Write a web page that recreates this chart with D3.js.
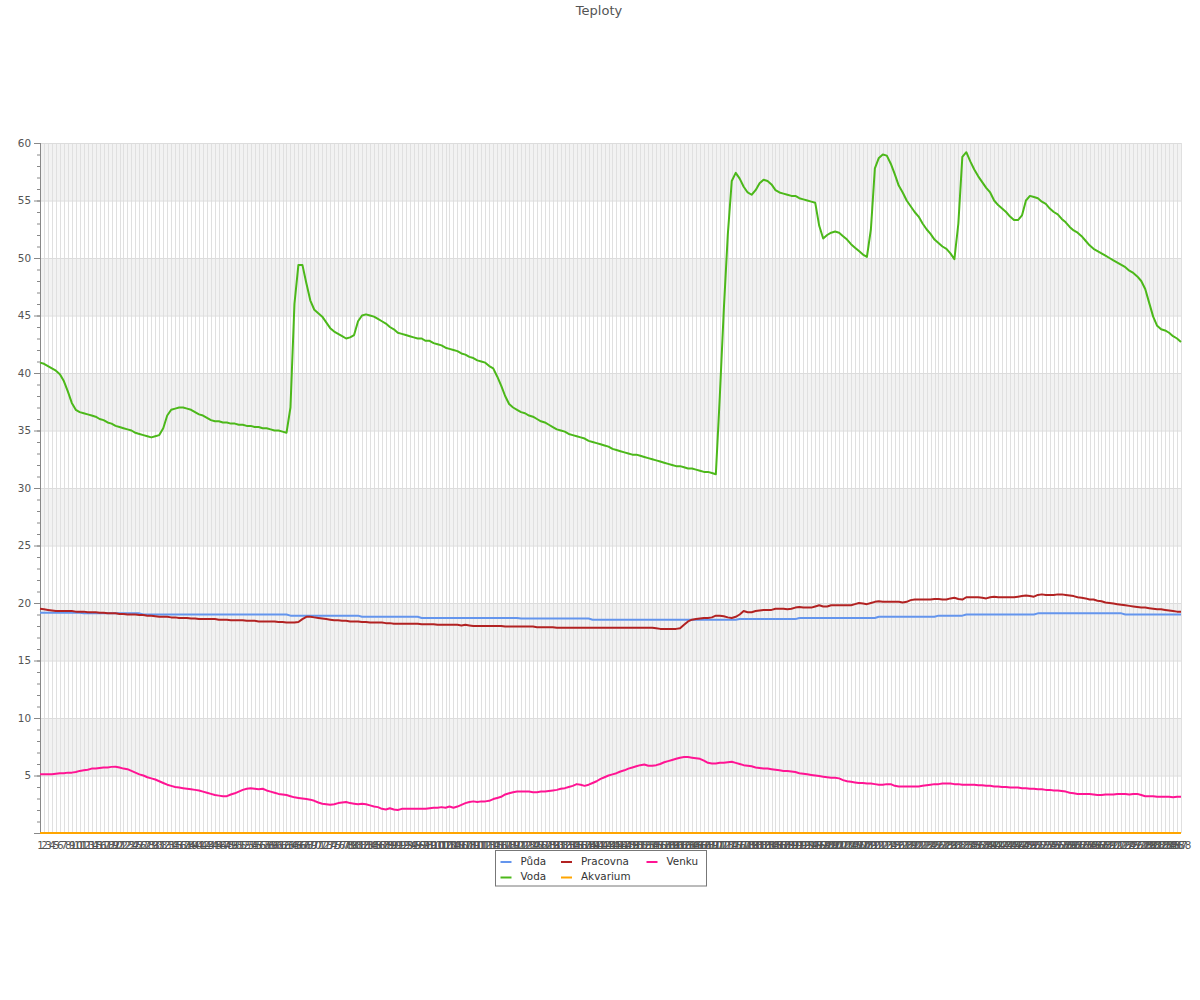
<!DOCTYPE html>
<html>
<head>
<meta charset="utf-8">
<script src="https://cdn.jsdelivr.net/npm/d3@7"></script>
<style>
  html, body { margin: 0; padding: 0; background: #fff; }
  svg { display: block; font-family: "DejaVu Sans", Verdana, sans-serif; }
</style>
</head>
<body>
<svg id="chart" width="1200" height="1000"></svg>
<script>
const title = "Teploty";
const seriesNames = ["Půda", "Voda", "Pracovna", "Akvarium", "Venku"];
const seriesColors = ["#6495ed", "#4cb81a", "#b22222", "#ffa500", "#ff1493"];
const yTickValues = [5, 10, 15, 20, 25, 30, 35, 40, 45, 50, 55, 60];
const yBands = [[5, 10], [15, 20], [25, 30], [35, 40], [45, 50], [55, 60]];

const puda = [
19.15,19.15,19.15,19.15,19.15,19.15,19.15,19.15,19.15,19.15,19.15,19.1,19.1,19.1,19.1,19.1,19.1,19.1,19.1,19.1,
19.1,19.1,19.1,19.1,19.1,19.1,19.0,19.0,19.0,19.0,19.0,19.0,19.0,19.0,19.0,19.0,19.0,19.0,19.0,19.0,
19.0,19.0,19.0,19.0,19.0,19.0,19.0,19.0,19.0,19.0,19.0,19.0,19.0,19.0,19.0,19.0,19.0,19.0,19.0,19.0,
19.0,19.0,19.0,18.9,18.9,18.9,18.9,18.9,18.9,18.9,18.9,18.9,18.9,18.9,18.9,18.9,18.9,18.9,18.9,18.9,
18.9,18.8,18.8,18.8,18.8,18.8,18.8,18.8,18.8,18.8,18.8,18.8,18.8,18.8,18.8,18.8,18.7,18.7,18.7,18.7,
18.7,18.7,18.7,18.7,18.7,18.7,18.7,18.7,18.7,18.7,18.7,18.7,18.7,18.7,18.7,18.7,18.7,18.7,18.7,18.7,
18.7,18.65,18.65,18.65,18.65,18.65,18.65,18.65,18.65,18.65,18.65,18.65,18.65,18.65,18.65,18.65,18.65,18.65,18.65,18.55,
18.55,18.55,18.55,18.55,18.55,18.55,18.55,18.55,18.55,18.55,18.55,18.55,18.55,18.55,18.55,18.55,18.55,18.55,18.55,18.55,
18.55,18.55,18.55,18.55,18.55,18.55,18.55,18.55,18.55,18.55,18.55,18.55,18.55,18.55,18.55,18.55,18.6,18.6,18.6,18.6,
18.6,18.6,18.6,18.6,18.6,18.6,18.6,18.6,18.6,18.6,18.6,18.7,18.7,18.7,18.7,18.7,18.7,18.7,18.7,18.7,
18.7,18.7,18.7,18.7,18.7,18.7,18.7,18.7,18.7,18.7,18.7,18.8,18.8,18.8,18.8,18.8,18.8,18.8,18.8,18.8,
18.8,18.8,18.8,18.8,18.8,18.8,18.9,18.9,18.9,18.9,18.9,18.9,18.9,19.0,19.0,19.0,19.0,19.0,19.0,19.0,
19.0,19.0,19.0,19.0,19.0,19.0,19.0,19.0,19.0,19.0,19.0,19.1,19.1,19.1,19.1,19.1,19.1,19.1,19.1,19.1,
19.1,19.1,19.1,19.1,19.1,19.1,19.1,19.1,19.1,19.1,19.1,19.1,19.1,19.0,19.0,19.0,19.0,19.0,19.0,19.0,
19.0,19.0,19.0,19.0,19.0,19.0,19.0,19.0
];

const voda = [
40.9,40.8,40.6,40.4,40.2,39.9,39.3,38.4,37.4,36.8,36.6,36.5,36.4,36.3,36.2,36.0,35.9,35.7,35.6,35.4,
35.3,35.2,35.1,35.0,34.8,34.7,34.6,34.5,34.4,34.5,34.6,35.2,36.3,36.8,36.9,37.0,37.0,36.9,36.8,36.6,
36.4,36.3,36.1,35.9,35.8,35.8,35.7,35.7,35.6,35.6,35.5,35.5,35.4,35.4,35.3,35.3,35.2,35.2,35.1,35.0,
35.0,34.9,34.8,37.0,46.0,49.4,49.4,47.8,46.3,45.5,45.2,44.9,44.4,43.9,43.6,43.4,43.2,43.0,43.1,43.3,
44.5,45.0,45.1,45.0,44.9,44.7,44.5,44.3,44.0,43.8,43.5,43.4,43.3,43.2,43.1,43.0,43.0,42.8,42.8,42.6,
42.5,42.4,42.2,42.1,42.0,41.9,41.7,41.6,41.4,41.3,41.1,41.0,40.9,40.6,40.4,39.7,38.9,38.0,37.3,37.0,
36.8,36.6,36.5,36.3,36.2,36.0,35.8,35.7,35.5,35.3,35.1,35.0,34.9,34.7,34.6,34.5,34.4,34.3,34.1,34.0,
33.9,33.8,33.7,33.6,33.4,33.3,33.2,33.1,33.0,32.9,32.9,32.8,32.7,32.6,32.5,32.4,32.3,32.2,32.1,32.0,
31.9,31.9,31.8,31.7,31.7,31.6,31.5,31.4,31.4,31.3,31.2,38.0,45.5,52.0,56.7,57.4,56.9,56.2,55.7,55.5,
55.9,56.5,56.8,56.7,56.4,55.9,55.7,55.6,55.5,55.4,55.4,55.2,55.1,55.0,54.9,54.8,52.8,51.7,52.0,52.2,
52.3,52.2,51.9,51.6,51.2,50.9,50.6,50.3,50.1,52.5,57.8,58.7,59.0,58.9,58.2,57.3,56.3,55.7,55.0,54.5,
54.0,53.6,53.0,52.5,52.1,51.6,51.3,51.0,50.8,50.4,49.9,53.0,58.8,59.2,58.4,57.7,57.1,56.6,56.1,55.7,
55.0,54.6,54.3,54.0,53.6,53.3,53.3,53.7,55.0,55.4,55.3,55.2,54.9,54.7,54.3,54.0,53.8,53.4,53.1,52.7,
52.4,52.2,51.9,51.5,51.1,50.8,50.6,50.4,50.2,50.0,49.8,49.6,49.4,49.2,48.9,48.7,48.4,48.0,47.3,46.1,
44.9,44.1,43.8,43.7,43.5,43.2,43.0,42.7
];

const pracovna = [
19.5,19.45,19.4,19.35,19.3,19.3,19.3,19.3,19.3,19.25,19.25,19.25,19.2,19.2,19.2,19.15,19.15,19.1,19.1,19.1,
19.05,19.05,19.0,19.0,19.0,18.95,18.95,18.9,18.9,18.85,18.8,18.8,18.8,18.75,18.75,18.7,18.7,18.7,18.65,18.65,
18.6,18.6,18.6,18.6,18.6,18.55,18.55,18.55,18.5,18.5,18.5,18.5,18.45,18.45,18.45,18.4,18.4,18.4,18.4,18.4,
18.35,18.35,18.3,18.3,18.3,18.35,18.6,18.8,18.8,18.75,18.7,18.65,18.6,18.55,18.5,18.5,18.45,18.45,18.4,18.4,
18.4,18.35,18.35,18.3,18.3,18.3,18.3,18.25,18.25,18.2,18.2,18.2,18.2,18.2,18.2,18.2,18.15,18.15,18.15,18.15,
18.1,18.1,18.1,18.1,18.1,18.1,18.05,18.1,18.05,18.0,18.0,18.0,18.0,18.0,18.0,18.0,18.0,17.95,17.95,17.95,
17.95,17.95,17.95,17.95,17.95,17.9,17.9,17.9,17.9,17.9,17.85,17.85,17.85,17.85,17.85,17.85,17.85,17.85,17.85,17.85,
17.85,17.85,17.85,17.85,17.85,17.85,17.85,17.85,17.85,17.85,17.85,17.85,17.85,17.85,17.85,17.8,17.75,17.75,17.75,17.75,
17.75,17.8,18.1,18.4,18.55,18.6,18.65,18.7,18.7,18.75,18.9,18.9,18.85,18.75,18.7,18.8,19.0,19.3,19.2,19.2,
19.3,19.35,19.4,19.4,19.4,19.5,19.5,19.5,19.45,19.5,19.6,19.65,19.6,19.6,19.6,19.7,19.8,19.7,19.7,19.8,
19.8,19.8,19.8,19.8,19.8,19.9,20.0,19.95,19.9,20.0,20.1,20.15,20.1,20.1,20.1,20.1,20.1,20.05,20.1,20.25,
20.3,20.3,20.3,20.3,20.3,20.35,20.35,20.3,20.3,20.4,20.45,20.35,20.3,20.5,20.5,20.5,20.5,20.45,20.4,20.5,
20.55,20.5,20.5,20.5,20.5,20.5,20.55,20.6,20.65,20.6,20.55,20.7,20.75,20.7,20.7,20.7,20.75,20.75,20.7,20.65,
20.6,20.5,20.45,20.4,20.3,20.3,20.2,20.15,20.05,20.0,19.95,19.9,19.85,19.8,19.75,19.7,19.65,19.6,19.6,19.55,
19.5,19.45,19.45,19.4,19.35,19.3,19.25,19.25
];

const akvarium = [
0,0,0,0,0,0,0,0,0,0,0,0,0,0,0,0,0,0,0,0,0,0,0,0,0,0,0,0,0,0,0,0,0,0,0,0,0,0,0,0,
0,0,0,0,0,0,0,0,0,0,0,0,0,0,0,0,0,0,0,0,0,0,0,0,0,0,0,0,0,0,0,0,0,0,0,0,0,0,0,0,
0,0,0,0,0,0,0,0,0,0,0,0,0,0,0,0,0,0,0,0,0,0,0,0,0,0,0,0,0,0,0,0,0,0,0,0,0,0,0,0,
0,0,0,0,0,0,0,0,0,0,0,0,0,0,0,0,0,0,0,0,0,0,0,0,0,0,0,0,0,0,0,0,0,0,0,0,0,0,0,0,
0,0,0,0,0,0,0,0,0,0,0,0,0,0,0,0,0,0,0,0,0,0,0,0,0,0,0,0,0,0,0,0,0,0,0,0,0,0,0,0,
0,0,0,0,0,0,0,0,0,0,0,0,0,0,0,0,0,0,0,0,0,0,0,0,0,0,0,0,0,0,0,0,0,0,0,0,0,0,0,0,
0,0,0,0,0,0,0,0,0,0,0,0,0,0,0,0,0,0,0,0,0,0,0,0,0,0,0,0,0,0,0,0,0,0,0,0,0,0,0,0,
0,0,0,0,0,0,0,0
];

const venku = [
5.1,5.1,5.1,5.1,5.15,5.2,5.2,5.25,5.25,5.3,5.4,5.45,5.5,5.6,5.6,5.65,5.7,5.7,5.75,5.77,
5.7,5.6,5.55,5.4,5.25,5.1,5.0,4.85,4.75,4.65,4.5,4.35,4.2,4.1,4.0,3.95,3.9,3.85,3.8,3.75,
3.7,3.6,3.5,3.4,3.3,3.25,3.2,3.2,3.35,3.45,3.6,3.75,3.85,3.9,3.85,3.8,3.85,3.7,3.6,3.5,
3.4,3.35,3.3,3.2,3.1,3.05,3.0,2.95,2.9,2.8,2.65,2.55,2.5,2.45,2.5,2.6,2.65,2.7,2.6,2.55,
2.5,2.55,2.5,2.4,2.3,2.25,2.1,2.05,2.15,2.05,2.0,2.1,2.1,2.1,2.1,2.1,2.1,2.1,2.15,2.2,
2.2,2.25,2.2,2.3,2.2,2.3,2.45,2.6,2.7,2.75,2.7,2.75,2.75,2.8,2.95,3.05,3.15,3.35,3.45,3.55,
3.6,3.6,3.6,3.6,3.55,3.55,3.6,3.6,3.65,3.7,3.75,3.85,3.9,4.0,4.1,4.25,4.2,4.1,4.2,4.35,
4.5,4.7,4.85,5.0,5.1,5.2,5.35,5.45,5.6,5.7,5.8,5.9,5.95,5.85,5.85,5.9,6.0,6.15,6.25,6.35,
6.45,6.55,6.6,6.6,6.55,6.5,6.45,6.3,6.1,6.05,6.05,6.1,6.1,6.15,6.2,6.1,6.0,5.9,5.85,5.8,
5.7,5.65,5.6,5.6,5.55,5.5,5.45,5.4,5.4,5.35,5.3,5.2,5.15,5.1,5.05,5.0,4.95,4.9,4.85,4.8,
4.8,4.75,4.6,4.5,4.45,4.4,4.35,4.35,4.3,4.3,4.25,4.2,4.2,4.25,4.25,4.1,4.05,4.05,4.05,4.05,
4.05,4.05,4.1,4.15,4.2,4.25,4.25,4.3,4.3,4.3,4.25,4.25,4.2,4.2,4.2,4.2,4.15,4.15,4.1,4.1,
4.05,4.05,4.0,4.0,3.95,3.95,3.95,3.9,3.9,3.85,3.85,3.8,3.8,3.75,3.75,3.7,3.7,3.65,3.6,3.5,
3.45,3.4,3.4,3.4,3.4,3.35,3.3,3.3,3.35,3.35,3.35,3.4,3.4,3.4,3.35,3.4,3.4,3.3,3.2,3.2,
3.2,3.15,3.15,3.15,3.15,3.1,3.15,3.15
];

const seriesValues = [puda, voda, pracovna, akvarium, venku];
const categories = d3.range(1, voda.length + 1).map(String);

const plot = { left: 40, right: 1181, top: 143, bottom: 833 };

const svg = d3.select("#chart");

const x = d3.scaleLinear().domain([0, categories.length - 1]).range([plot.left, plot.right]);
const y = d3.scaleLinear().domain([0, 60]).range([plot.bottom, plot.top]);

// title
svg.append("text")
  .attr("x", 599).attr("y", 15)
  .attr("text-anchor", "middle")
  .attr("font-size", 13)
  .attr("fill", "#545454")
  .text(title);

// bands
svg.append("g").selectAll("rect").data(yBands).join("rect")
  .attr("x", plot.left).attr("width", plot.right - plot.left)
  .attr("y", d => y(d[1])).attr("height", d => y(d[0]) - y(d[1]))
  .attr("fill", "#f2f2f2");

// vertical grid (one per category), snapped to whole pixels
svg.append("g")
  .attr("transform", `translate(0,${plot.top})`)
  .call(d3.axisTop(x).tickValues(d3.range(categories.length)).tickSize(-(plot.bottom - plot.top)).tickFormat(""))
  .call(g => g.select(".domain").remove())
  .call(g => g.selectAll(".tick").attr("transform", d => `translate(${Math.round(x(d)) + 0.5},0)`))
  .call(g => g.selectAll("line").attr("stroke", "#e0e0e0").attr("stroke-width", 1));

// horizontal grid
svg.append("g")
  .attr("transform", `translate(${plot.left},0)`)
  .call(d3.axisLeft(y).tickValues(yTickValues).tickSize(-(plot.right - plot.left)).tickFormat(""))
  .call(g => g.select(".domain").remove())
  .call(g => g.selectAll("line").attr("stroke", "#dcdcdc").attr("stroke-width", 1));

// minor y ticks
svg.append("g")
  .attr("transform", `translate(${plot.left},0)`)
  .call(d3.axisLeft(y).tickValues(d3.range(0, 61, 1)).tickSize(3).tickFormat(""))
  .call(g => g.select(".domain").remove())
  .call(g => g.selectAll("line").attr("stroke", "#888"));

// major y axis
svg.append("g")
  .attr("transform", `translate(${plot.left},0)`)
  .call(d3.axisLeft(y).tickValues([0].concat(yTickValues)).tickSize(6).tickPadding(3)
        .tickFormat(d => d === 0 ? "" : String(d)))
  .call(g => g.select(".domain").attr("stroke", "#888").attr("d", `M0.5,${plot.top}V${plot.bottom}`))
  .call(g => g.selectAll("line").attr("stroke", "#888"))
  .call(g => g.selectAll("text").attr("font-size", 10.4).attr("fill", "#545454")
        .attr("font-family", "DejaVu Sans, sans-serif"));

// x axis line
svg.append("line")
  .attr("x1", plot.left - 6).attr("x2", plot.right)
  .attr("y1", plot.bottom + 0.5).attr("y2", plot.bottom + 0.5)
  .attr("stroke", "#888");

// x axis labels
svg.append("g")
  .attr("transform", `translate(0,${plot.bottom})`)
  .call(d3.axisBottom(x).tickValues(d3.range(categories.length)).tickSize(0).tickPadding(9)
        .tickFormat(i => categories[i]))
  .call(g => g.select(".domain").remove())
  .call(g => g.selectAll("text").attr("font-size", 10.4).attr("fill", "#545454")
        .attr("font-family", "DejaVu Sans, sans-serif"));

// lines
const line = d3.line().x((d, i) => x(i)).y(d => y(d));
svg.append("g").selectAll("path").data(seriesValues).join("path")
  .attr("d", d => line(d))
  .attr("fill", "none")
  .attr("stroke", (d, i) => seriesColors[i])
  .attr("stroke-width", 2)
  .attr("stroke-linejoin", "round");

// legend
const legend = svg.append("g");
legend.append("rect")
  .attr("x", 495.5).attr("y", 850.5).attr("width", 211).attr("height", 35.5)
  .attr("fill", "#fff").attr("stroke", "#777");
const legendCols = [500.5, 561, 646.5];
const legendRows = [862, 877.5];
const legendItems = seriesNames.map((name, i) => ({
  name, color: seriesColors[i], col: Math.floor(i / 2), row: i % 2
}));
const li = legend.selectAll("g.item").data(legendItems).join("g").attr("class", "item");
li.append("line")
  .attr("x1", d => legendCols[d.col]).attr("x2", d => legendCols[d.col] + 11)
  .attr("y1", d => legendRows[d.row]).attr("y2", d => legendRows[d.row])
  .attr("stroke", d => d.color).attr("stroke-width", 2);
li.append("text")
  .attr("x", d => legendCols[d.col] + 20)
  .attr("y", d => legendRows[d.row] + 2.5)
  .attr("font-size", 10.4).attr("fill", "#333")
  .text(d => d.name);
</script>
</body>
</html>
